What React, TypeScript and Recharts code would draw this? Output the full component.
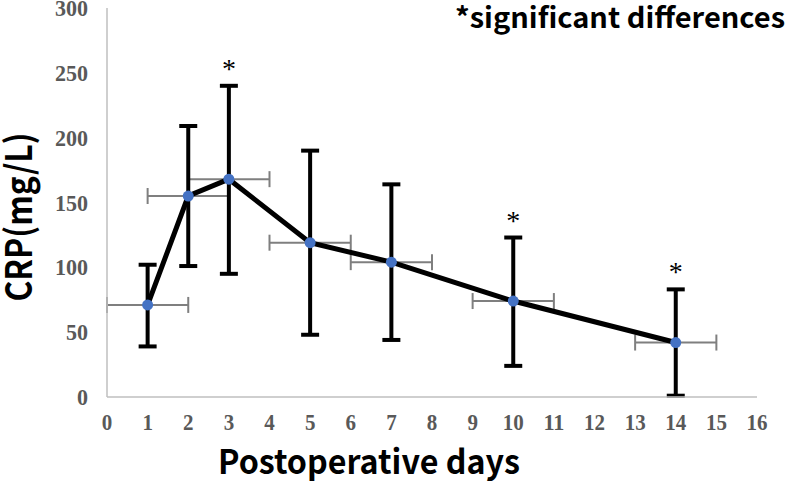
import React from "react";
import { ComposedChart, Line, Scatter, XAxis, YAxis, ErrorBar } from "recharts";

// postoperative day, mean CRP and the ends of its error bars
const days = [1, 2, 3, 5, 7, 10, 14];
const crp = [71, 155, 168, 119, 104, 74, 42];
const upper = [102, 209, 240, 190, 164, 123, 83];
const lower = [39, 101, 95, 48, 44, 24, 1];
const dayErr = [1, 1, 1, 1, 1, 1, 1];
const significantDays = [3, 10, 14];

const xTicks = [0, 1, 2, 3, 4, 5, 6, 7, 8, 9, 10, 11, 12, 13, 14, 15, 16];
const yTicks = [0, 50, 100, 150, 200, 250, 300];

const rows = days.map((day, i) => ({
  day,
  crp: crp[i],
  hi: upper[i],
  lo: lower[i],
  dayErr: dayErr[i],
}));

const starRows = rows.filter((r) => significantDays.includes(r.day));

const serif = "'Liberation Serif', serif";
const titleFont = "'Noto Sans CJK JP', 'Noto Sans', sans-serif";

function YTick(props: any) {
  const { x, y, payload } = props;
  const s = String(payload.value);
  return (
    <text
      x={x}
      y={y + 8}
      textAnchor="end"
      fontFamily={serif}
      fontWeight={700}
      fontSize={24}
      fill="#595959"
      textLength={s.length * 11}
      lengthAdjust="spacingAndGlyphs"
    >
      {s}
    </text>
  );
}

function XTick(props: any) {
  const { x, y, payload } = props;
  const s = String(payload.value);
  return (
    <text
      x={x}
      y={y + 33}
      textAnchor="middle"
      fontFamily={serif}
      fontWeight={700}
      fontSize={24}
      fill="#595959"
      textLength={s.length * 10.5}
      lengthAdjust="spacingAndGlyphs"
    >
      {s}
    </text>
  );
}

const Hidden = () => <g />;

function Star(props: any) {
  const { cx, cy } = props;
  return (
    <text x={cx} y={cy - 8} textAnchor="middle" fontFamily={serif} fontSize={28} fill="#000">
      *
    </text>
  );
}

function Dot(props: any) {
  const { cx, cy } = props;
  return <circle cx={cx} cy={cy} r={5.5} fill="#4472C4" />;
}

export default function App() {
  return (
    <div style={{ position: "absolute", left: 0, top: 0, width: 787, height: 482, background: "#fff" }}>
      <ComposedChart width={787} height={482} data={rows} margin={{ top: 8, right: 30, bottom: 55, left: 0 }}>
        <XAxis
          type="number"
          dataKey="day"
          domain={[0, 16]}
          ticks={xTicks}
          interval={0}
          tickLine={false}
          tickSize={0}
          tickMargin={0}
          height={30}
          axisLine={{ stroke: "#bfbfbf", strokeWidth: 1.5 }}
          tick={<XTick />}
          label={{
            content: () => (
              <text
                x={369}
                y={474}
                textAnchor="middle"
                fontFamily={titleFont}
                fontWeight={700}
                fontSize={33}
                fill="#000"
                textLength={302}
                lengthAdjust="spacingAndGlyphs"
              >
                Postoperative days
              </text>
            ),
          }}
        />
        <YAxis
          type="number"
          domain={[0, 300]}
          ticks={yTicks}
          interval={0}
          width={107}
          tickLine={false}
          tickSize={0}
          tickMargin={19}
          axisLine={{ stroke: "#bfbfbf", strokeWidth: 1.5 }}
          tick={<YTick />}
          label={{
            content: () => (
              <text
                x={32}
                y={217}
                transform="rotate(-90 32 217)"
                textAnchor="middle"
                fontFamily={titleFont}
                fontWeight={700}
                fontSize={36}
                fill="#000"
                textLength={169}
                lengthAdjust="spacingAndGlyphs"
              >
                CRP(mg/L)
              </text>
            ),
          }}
        />
        <Scatter dataKey="crp" shape={Hidden} isAnimationActive={false}>
          <ErrorBar dataKey="dayErr" direction="x" width={8} stroke="#7f7f7f" strokeWidth={2} />
        </Scatter>
        <Scatter dataKey="crp" shape={Hidden} isAnimationActive={false}>
          <ErrorBar
            dataKey={(d: any) => [d.crp - d.lo, d.hi - d.crp]}
            direction="y"
            width={9}
            stroke="#000"
            strokeWidth={4}
          />
        </Scatter>
        <Line type="linear" dataKey="crp" stroke="#000" strokeWidth={5} dot={false} activeDot={false} isAnimationActive={false} />
        <Scatter dataKey="crp" shape={Dot} isAnimationActive={false} />
        <Scatter data={starRows} dataKey="hi" shape={Star} isAnimationActive={false} />
      </ComposedChart>
      <svg width={787} height={45} style={{ position: "absolute", left: 0, top: 0, pointerEvents: "none" }}>
        <text
          x={785}
          y={28}
          textAnchor="end"
          fontFamily={titleFont}
          fontWeight={700}
          fontSize={28}
          fill="#000"
          textLength={330}
          lengthAdjust="spacingAndGlyphs"
        >
          *significant differences
        </text>
      </svg>
    </div>
  );
}
